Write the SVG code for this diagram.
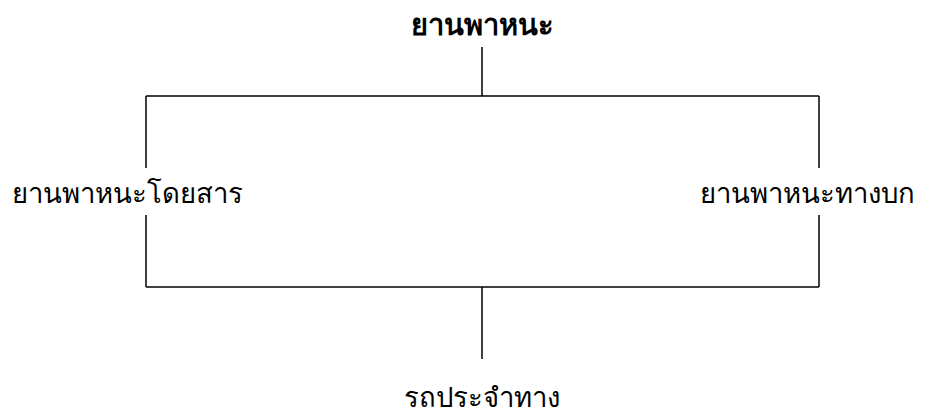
<svg xmlns="http://www.w3.org/2000/svg" width="925" height="419" viewBox="0 0 925 419">
<style>
text{font-family:"Noto Sans","DejaVu Sans",sans-serif;font-size:27.5px;fill:#000}
.b{font-weight:bold;font-size:29px}
.c line{stroke:#000;stroke-width:1.5;fill:none}
</style>
<rect width="925" height="419" fill="#fff"/>
<g id="top"><text class="b" x="482" y="35" text-anchor="middle">ยานพาหนะ</text></g>
<g id="left"><text x="12" y="203">ยานพาหนะโดยสาร</text></g>
<g id="right"><text x="915" y="203" text-anchor="end">ยานพาหนะทางบก</text></g>
<g id="bottom"><text x="482" y="407" text-anchor="middle">รถประจำทาง</text></g>
<g class="c" id="connectors">
<line x1="482" y1="47" x2="482" y2="96"/>
<line x1="146" y1="96" x2="819" y2="96"/>
<line x1="146" y1="96" x2="146" y2="168"/>
<line x1="819" y1="96" x2="819" y2="168"/>
<line x1="146" y1="215" x2="146" y2="287"/>
<line x1="819" y1="215" x2="819" y2="287"/>
<line x1="146" y1="287" x2="819" y2="287"/>
<line x1="482" y1="287" x2="482" y2="359"/>
</g>
</svg>
